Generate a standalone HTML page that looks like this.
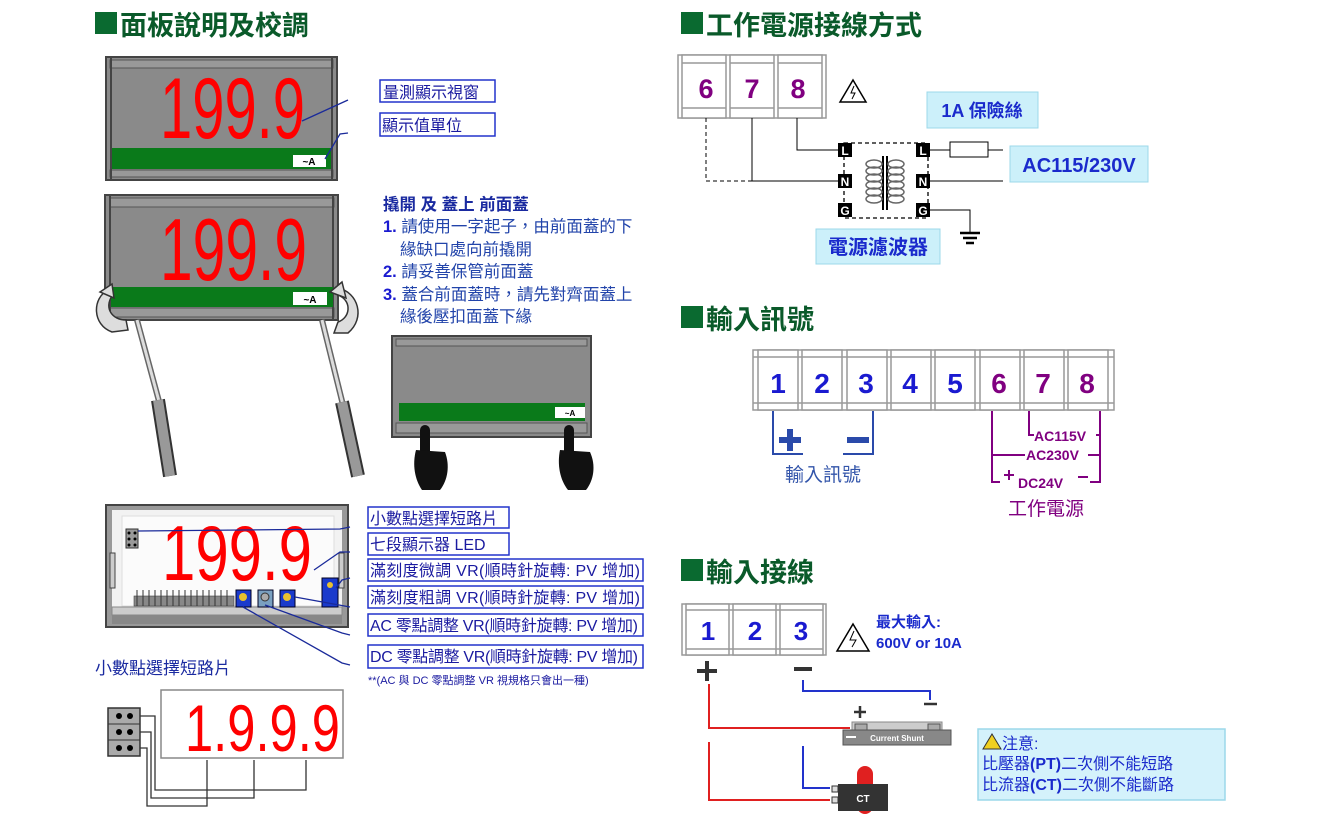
<!DOCTYPE html>
<html><head><meta charset="utf-8">
<style>
html,body{margin:0;padding:0;background:#fff;}
svg{display:block;}
text{font-family:"Liberation Sans","Noto Sans CJK TC",sans-serif;}
.h{font-size:27px;font-weight:bold;fill:#0a5a2a;}
.seg{font-family:"Liberation Sans",sans-serif;fill:#f00;}
.lb{font-size:16px;fill:#1a1aa0;}
.box{fill:#fff;stroke:#2233cc;stroke-width:1.5;}
.ln{stroke:#1a2a9a;stroke-width:1.3;fill:none;}
.tb{fill:#fff;stroke:#999;stroke-width:1.5;}
</style></head><body>
<svg width="1323" height="816" viewBox="0 0 1323 816" xmlns="http://www.w3.org/2000/svg">
<!-- Headings -->
<rect x="95" y="12" width="22" height="22" fill="#0a6a30"/>
<text x="120" y="35" class="h">面板說明及校調</text>
<rect x="681" y="12" width="22" height="22" fill="#0a6a30"/>
<text x="706" y="35" class="h">工作電源接線方式</text>
<rect x="681" y="306" width="22" height="22" fill="#0a6a30"/>
<text x="706" y="329" class="h">輸入訊號</text>
<rect x="681" y="559" width="22" height="22" fill="#0a6a30"/>
<text x="706" y="582" class="h">輸入接線</text>

<!-- Panel 1 -->
<rect x="106" y="57" width="231" height="123" fill="#8a8a8a" stroke="#444" stroke-width="2"/>
<rect x="110" y="60" width="223" height="8" fill="#999" stroke="#555" stroke-width="1"/>
<rect x="110" y="170" width="223" height="7" fill="#999" stroke="#555" stroke-width="1"/>
<line x1="111" y1="58" x2="111" y2="179" stroke="#444" stroke-width="2"/>
<line x1="332" y1="58" x2="332" y2="179" stroke="#444" stroke-width="2"/>
<text class="seg" x="160" y="138" font-size="86" textLength="145" lengthAdjust="spacingAndGlyphs">199.9</text>
<rect x="112" y="148" width="219" height="21" fill="#0a7a1a"/>
<rect x="293" y="155" width="33" height="12" fill="#fff"/>
<text x="309" y="165" font-size="10" font-weight="bold" text-anchor="middle" fill="#000">~A</text>
<rect x="380" y="80" width="115" height="22" class="box"/>
<text x="383" y="98" class="lb" font-size="17">量測顯示視窗</text>
<rect x="380" y="113" width="115" height="23" class="box"/>
<text x="382" y="131" class="lb" font-size="17">顯示值單位</text>
<path d="M302 121 L348 100" class="ln"/>
<path d="M325 159 L340 134 L348 133" class="ln"/>

<!-- Panel 2 -->
<rect x="105" y="195" width="233" height="125" fill="#8a8a8a" stroke="#444" stroke-width="2"/>
<rect x="110" y="198" width="224" height="9" fill="#999" stroke="#555" stroke-width="1"/>
<rect x="110" y="308" width="224" height="9" fill="#999" stroke="#555" stroke-width="1"/>
<line x1="110" y1="196" x2="110" y2="319" stroke="#444" stroke-width="2"/>
<line x1="333" y1="196" x2="333" y2="319" stroke="#444" stroke-width="2"/>
<text class="seg" x="160" y="280" font-size="88" textLength="147" lengthAdjust="spacingAndGlyphs">199.9</text>
<rect x="111" y="287" width="222" height="20" fill="#0a7a1a"/>
<rect x="293" y="292" width="34" height="13" fill="#fff"/>
<text x="310" y="303" font-size="10" font-weight="bold" text-anchor="middle" fill="#000">~A</text>
<path d="M108 290 C92 298 92 325 112 332 L128 330 L126 320 C112 320 104 308 112 296 Z" fill="#ddd" stroke="#333" stroke-width="1.5"/>
<path d="M100 292 L112 284 L114 298 Z" fill="#ddd" stroke="#333" stroke-width="1.5"/>
<path d="M338 288 C358 292 366 318 348 333 L334 333 L338 322 C350 318 352 302 340 296 Z" fill="#ddd" stroke="#333" stroke-width="1.5"/>
<path d="M330 292 L342 282 L346 298 Z" fill="#ddd" stroke="#333" stroke-width="1.5"/>
<line x1="137" y1="320" x2="160" y2="405" stroke="#666" stroke-width="6"/>
<line x1="137" y1="320" x2="160" y2="405" stroke="#ddd" stroke-width="3"/>
<line x1="158" y1="400" x2="170" y2="476" stroke="#333" stroke-width="14"/>
<line x1="158" y1="400" x2="170" y2="476" stroke="#999" stroke-width="10"/>
<line x1="322" y1="320" x2="343" y2="405" stroke="#666" stroke-width="6"/>
<line x1="322" y1="320" x2="343" y2="405" stroke="#ddd" stroke-width="3"/>
<line x1="342" y1="402" x2="358" y2="476" stroke="#333" stroke-width="14"/>
<line x1="342" y1="402" x2="358" y2="476" stroke="#999" stroke-width="10"/>

<g font-size="16.5" fill="#2244aa">
<text x="383" y="210" font-weight="bold" fill="#1a2aa0">撬開 及 蓋上 前面蓋</text>
<text x="383" y="232"><tspan font-weight="bold" fill="#1a1ad0">1.</tspan> 請使用一字起子，由前面蓋的下</text>
<text x="400" y="255">緣缺口處向前撬開</text>
<text x="383" y="277"><tspan font-weight="bold" fill="#1a1ad0">2.</tspan> 請妥善保管前面蓋</text>
<text x="383" y="300"><tspan font-weight="bold" fill="#1a1ad0">3.</tspan> 蓋合前面蓋時，請先對齊面蓋上</text>
<text x="400" y="322">緣後壓扣面蓋下緣</text>
</g>

<!-- Panel 3 -->
<rect x="392" y="336" width="199" height="101" fill="#8a8a8a" stroke="#444" stroke-width="2"/>
<rect x="396" y="339" width="191" height="7" fill="#999" stroke="#555"/>
<rect x="396" y="423" width="191" height="10" fill="#999" stroke="#555"/>
<rect x="399" y="403" width="186" height="18" fill="#0a7a1a"/>
<rect x="555" y="407" width="30" height="11" fill="#fff"/>
<text x="570" y="416" font-size="8" font-weight="bold" text-anchor="middle">~A</text>
<g fill="#111">
<rect x="420" y="425" width="10" height="35" rx="5"/>
<path d="M416 450 L445 452 C450 465 448 480 440 490 L422 490 C415 480 412 465 416 450 Z"/>
<rect x="564" y="425" width="10" height="35" rx="5"/>
<path d="M560 450 L590 452 C596 465 594 480 586 490 L568 490 C560 480 557 465 560 450 Z"/>
</g>

<!-- Bottom panel -->
<rect x="106" y="505" width="242" height="122" fill="#999" stroke="#444" stroke-width="2"/>
<rect x="112" y="510" width="230" height="98" fill="#f2f2f2"/>
<rect x="122" y="516" width="212" height="90" fill="#fbfbfb" stroke="#ddd"/>
<rect x="110" y="553" width="5" height="35" fill="#ccc" stroke="#444"/>
<rect x="339" y="553" width="5" height="35" fill="#ccc" stroke="#444"/>
<rect x="112" y="607" width="230" height="8" fill="#ccc" stroke="#888"/>
<rect x="112" y="615" width="230" height="9" fill="#888"/>
<text class="seg" x="162" y="580" font-size="78" textLength="150" lengthAdjust="spacingAndGlyphs">199.9</text>
<rect x="126" y="529" width="12" height="19" fill="#999" stroke="#333"/>
<g fill="#000"><circle cx="129" cy="533" r="1.5"/><circle cx="135" cy="533" r="1.5"/><circle cx="129" cy="539" r="1.5"/><circle cx="135" cy="539" r="1.5"/><circle cx="129" cy="545" r="1.5"/><circle cx="135" cy="545" r="1.5"/></g>
<rect x="134" y="596" width="100" height="10" fill="#888" stroke="#444" stroke-width="0.6"/>
<path d="M137 590v16M143 590v16M149 590v16M155 590v16M161 590v16M167 590v16M173 590v16M179 590v16M185 590v16M191 590v16M197 590v16M203 590v16M209 590v16M215 590v16M221 590v16M227 590v16" stroke="#333" stroke-width="1"/>
<rect x="236" y="590" width="15" height="17" fill="#1a3acc" stroke="#002"/>
<circle cx="243" cy="597" r="4" fill="#e8c030"/>
<rect x="258" y="590" width="15" height="17" fill="#7aa0c0" stroke="#002"/>
<circle cx="265" cy="597" r="4" fill="#aaa" stroke="#333"/>
<rect x="280" y="590" width="15" height="17" fill="#1a3acc" stroke="#002"/>
<circle cx="287" cy="597" r="4" fill="#e8c030"/>
<rect x="322" y="578" width="16" height="29" fill="#1a3acc" stroke="#002"/>
<circle cx="330" cy="585" r="3" fill="#e8c030"/>
<rect x="368" y="507" width="141" height="21" class="box"/>
<text x="370" y="524" class="lb">小數點選擇短路片</text>
<rect x="368" y="533" width="141" height="22" class="box"/>
<text x="370" y="550" class="lb">七段顯示器 LED</text>
<rect x="368" y="559" width="275" height="22" class="box"/>
<text x="370" y="576" class="lb" textLength="270">滿刻度微調 VR(順時針旋轉: PV 增加)</text>
<rect x="368" y="586" width="275" height="22" class="box"/>
<text x="370" y="603" class="lb" textLength="270">滿刻度粗調 VR(順時針旋轉: PV 增加)</text>
<rect x="368" y="614" width="275" height="22" class="box"/>
<text x="370" y="631" class="lb" textLength="268">AC 零點調整 VR(順時針旋轉: PV 增加)</text>
<rect x="368" y="645" width="275" height="23" class="box"/>
<text x="370" y="662" class="lb" textLength="268">DC 零點調整 VR(順時針旋轉: PV 增加)</text>
<text x="368" y="684" font-size="11" fill="#1a1aa0">**(AC 與 DC 零點調整 VR 視規格只會出一種)</text>
<path d="M138 531 L340 529 L350 527" class="ln"/>
<path d="M314 570 L340 552 L350 552" class="ln"/>
<path d="M336 588 L342 580 L350 578" class="ln"/>
<path d="M295 597 L350 607" class="ln"/>
<path d="M265 605 L342 633 L350 635" class="ln"/>
<path d="M243 607 L342 663 L350 665" class="ln"/>

<text x="95" y="674" font-size="17" fill="#1a2aa0">小數點選擇短路片</text>
<rect x="161" y="690" width="182" height="68" fill="#fff" stroke="#888" stroke-width="1.5"/>
<text class="seg" x="185" y="751" font-size="66" textLength="155" lengthAdjust="spacingAndGlyphs">1.9.9.9</text>
<rect x="108" y="708" width="32" height="48" fill="#aaa" stroke="#333" stroke-width="1.5"/>
<line x1="108" y1="724" x2="140" y2="724" stroke="#333"/><line x1="108" y1="740" x2="140" y2="740" stroke="#333"/>
<g fill="#000"><circle cx="119" cy="716" r="3"/><circle cx="130" cy="716" r="3"/><circle cx="119" cy="732" r="3"/><circle cx="130" cy="732" r="3"/><circle cx="119" cy="748" r="3"/><circle cx="130" cy="748" r="3"/></g>
<g stroke="#333" fill="none" stroke-width="1.3">
<path d="M140 716 H155 V790 H306 V760"/>
<path d="M140 732 H151 V798 H254 V760"/>
<path d="M140 748 H147 V806 H207 V760"/>
</g>

<!-- Power terminal -->
<rect x="678" y="55" width="148" height="63" class="tb"/>
<g class="tb"><rect x="682" y="55" width="44" height="63"/><rect x="730" y="55" width="44" height="63"/><rect x="778" y="55" width="44" height="63"/></g>
<path d="M682 63H726M730 63H774M778 63H822M682 108H726M730 108H774M778 108H822" stroke="#999" stroke-width="1.5"/>
<g font-size="27" font-weight="bold" fill="#800080" text-anchor="middle"><text x="706" y="98">6</text><text x="752" y="98">7</text><text x="798" y="98">8</text></g>
<path d="M853 80 L866 102 L840 102 Z" fill="none" stroke="#000" stroke-width="1.5"/>
<path d="M854 86 L851 93 L855 93 L852 99" fill="none" stroke="#000" stroke-width="1"/>
<rect x="927" y="92" width="111" height="36" fill="#ccf0fa" stroke="#9cd8ea"/>
<text x="982" y="117" font-size="18" font-weight="bold" fill="#1a2acc" text-anchor="middle">1A 保險絲</text>
<path d="M706 118 V181 H840" stroke="#000" stroke-dasharray="4 3" fill="none"/>
<path d="M752 118 V181 H840" stroke="#000" fill="none"/>
<path d="M797 118 V150 H840" stroke="#000" fill="none"/>
<rect x="844" y="143" width="84" height="75" fill="none" stroke="#000" stroke-dasharray="4 3" stroke-width="1.3"/>
<g fill="#000"><rect x="838" y="143" width="14" height="14"/><rect x="838" y="174" width="14" height="14"/><rect x="838" y="203" width="14" height="14"/><rect x="916" y="143" width="14" height="14"/><rect x="916" y="174" width="14" height="14"/><rect x="916" y="203" width="14" height="14"/></g>
<g fill="#fff" font-size="12" font-weight="bold" text-anchor="middle"><text x="845" y="155">L</text><text x="845" y="186">N</text><text x="845" y="215">G</text><text x="923" y="155">L</text><text x="923" y="186">N</text><text x="923" y="215">G</text></g>
<line x1="883" y1="156" x2="883" y2="210" stroke="#000" stroke-width="2"/>
<line x1="887" y1="156" x2="887" y2="210" stroke="#000" stroke-width="2"/>
<g fill="none" stroke="#666" stroke-width="1.5">
<ellipse cx="874" cy="164" rx="8" ry="4"/><ellipse cx="874" cy="171" rx="8" ry="4"/><ellipse cx="874" cy="178" rx="8" ry="4"/><ellipse cx="874" cy="185" rx="8" ry="4"/><ellipse cx="874" cy="192" rx="8" ry="4"/><ellipse cx="874" cy="199" rx="8" ry="4"/>
<ellipse cx="896" cy="164" rx="8" ry="4"/><ellipse cx="896" cy="171" rx="8" ry="4"/><ellipse cx="896" cy="178" rx="8" ry="4"/><ellipse cx="896" cy="185" rx="8" ry="4"/><ellipse cx="896" cy="192" rx="8" ry="4"/><ellipse cx="896" cy="199" rx="8" ry="4"/>
</g>
<path d="M930 150 H950 M988 150 H1003 M930 181 H1003 M930 210 H970 V232" stroke="#000" fill="none"/>
<rect x="950" y="142" width="38" height="15" fill="#fff" stroke="#000"/>
<path d="M960 233H980M963 238H977M966 243H974" stroke="#000" stroke-width="2.5"/>
<rect x="1010" y="146" width="138" height="36" fill="#ccf0fa" stroke="#9cd8ea"/>
<text x="1079" y="172" font-size="20" font-weight="bold" fill="#1a2acc" text-anchor="middle">AC115/230V</text>
<rect x="816" y="229" width="124" height="35" fill="#ccf0fa" stroke="#9cd8ea"/>
<text x="878" y="254" font-size="20" font-weight="bold" fill="#1a2acc" text-anchor="middle">電源濾波器</text>

<!-- Input signal terminals -->
<rect x="753" y="350" width="361" height="60" class="tb"/>
<g class="tb">
<rect x="758" y="350" width="40" height="60"/><rect x="802" y="350" width="40" height="60"/><rect x="847" y="350" width="40" height="60"/><rect x="891" y="350" width="40" height="60"/><rect x="935" y="350" width="40" height="60"/><rect x="980" y="350" width="40" height="60"/><rect x="1024" y="350" width="40" height="60"/><rect x="1068" y="350" width="40" height="60"/>
</g>
<path d="M753 357H1114M753 403H1114" stroke="#999" stroke-width="1.5"/>
<g font-size="28" font-weight="bold" text-anchor="middle">
<text x="778" y="393" fill="#1a1ad0">1</text><text x="822" y="393" fill="#1a1ad0">2</text><text x="866" y="393" fill="#1a1ad0">3</text><text x="910" y="393" fill="#1a1ad0">4</text><text x="955" y="393" fill="#1a1ad0">5</text>
<text x="999" y="393" fill="#800080">6</text><text x="1043" y="393" fill="#800080">7</text><text x="1087" y="393" fill="#800080">8</text>
</g>
<path d="M773 411 V454 H803 M873 411 V454 H843" stroke="#2a4aaa" stroke-width="2" fill="none"/>
<path d="M779 440 H801 M790 429 V451 M847 440 H869" stroke="#2a4aaa" stroke-width="6"/>
<text x="823" y="481" font-size="19" fill="#3355aa" text-anchor="middle">輸入訊號</text>
<g stroke="#800080" stroke-width="2" fill="none">
<path d="M992 411 V482 H1000 M1090 482 H1100 V411"/>
<path d="M1029 411 V435 H1034 M1096 435 H1100"/>
<path d="M992 455 H1025 M1088 455 H1100"/>
<path d="M1004 475 H1014 M1009 470 V480 M1078 477 H1088"/>
</g>
<g font-size="14" font-weight="bold" fill="#800080">
<text x="1034" y="441">AC115V</text><text x="1026" y="460">AC230V</text>
<text x="1018" y="488">DC24V</text>
</g>
<text x="1046" y="515" font-size="19" fill="#800080" text-anchor="middle">工作電源</text>

<!-- Input wiring -->
<rect x="682" y="604" width="144" height="51" class="tb"/>
<g class="tb"><rect x="686" y="604" width="43" height="51"/><rect x="733" y="604" width="43" height="51"/><rect x="780" y="604" width="43" height="51"/></g>
<path d="M686 610H823M686 649H823" stroke="#999" stroke-width="1.5"/>
<g font-size="26" font-weight="bold" fill="#1a1ad0" text-anchor="middle"><text x="708" y="640">1</text><text x="755" y="640">2</text><text x="801" y="640">3</text></g>
<path d="M853 624 L869 651 L837 651 Z" fill="none" stroke="#000" stroke-width="1.5"/>
<path d="M854 631 L850 640 L856 640 L852 647" fill="none" stroke="#000" stroke-width="1"/>
<text x="876" y="627" font-size="15" font-weight="bold" fill="#1a2acc">最大輸入:</text>
<text x="876" y="648" font-size="15" font-weight="bold" fill="#1a2acc">600V or 10A</text>
<path d="M697 671 H717 M707 661 V681 M794 669 H812" stroke="#333" stroke-width="4"/>
<path d="M803 680 V691 H930 V700" stroke="#2233cc" stroke-width="2" fill="none"/>
<path d="M924 704 H937" stroke="#333" stroke-width="2.5"/>
<path d="M854 712 H866 M860 706 V718" stroke="#333" stroke-width="2.5"/>
<path d="M709 684 V728 H850" stroke="#e02020" stroke-width="2" fill="none"/>
<path d="M709 742 V800 H830" stroke="#e02020" stroke-width="2" fill="none"/>
<path d="M803 746 V788 H830" stroke="#2233cc" stroke-width="2" fill="none"/>
<rect x="852" y="722" width="90" height="8" fill="#ccc" stroke="#888"/>
<rect x="855" y="724" width="12" height="18" fill="#aaa" stroke="#555"/>
<rect x="928" y="724" width="12" height="18" fill="#aaa" stroke="#555"/>
<rect x="843" y="730" width="108" height="15" fill="#888" stroke="#555"/>
<text x="897" y="741" font-size="8" fill="#fff" text-anchor="middle" font-weight="bold">Current Shunt</text>
<path d="M846 737 H856" stroke="#fff" stroke-width="2"/>
<rect x="857" y="766" width="16" height="48" rx="8" fill="#e02020"/>
<rect x="838" y="784" width="50" height="27" fill="#333"/>
<rect x="832" y="786" width="6" height="6" fill="#ddd" stroke="#333"/><rect x="832" y="797" width="6" height="6" fill="#ddd" stroke="#333"/>
<text x="863" y="802" font-size="10" fill="#fff" text-anchor="middle" font-weight="bold">CT</text>
<rect x="978" y="729" width="247" height="71" fill="#d4f2fb" stroke="#9cd8ea" stroke-width="1.5"/>
<path d="M992 734 L1001 749 L983 749 Z" fill="#f0d020" stroke="#333"/>
<text x="1002" y="749" font-size="16" fill="#1a2acc">注意:</text>
<text x="982" y="769" font-size="16" fill="#1a2acc">比壓器<tspan font-weight="bold">(PT)</tspan>二次側不能短路</text>
<text x="982" y="790" font-size="16" fill="#1a2acc">比流器<tspan font-weight="bold">(CT)</tspan>二次側不能斷路</text>
</svg>
</body></html>
